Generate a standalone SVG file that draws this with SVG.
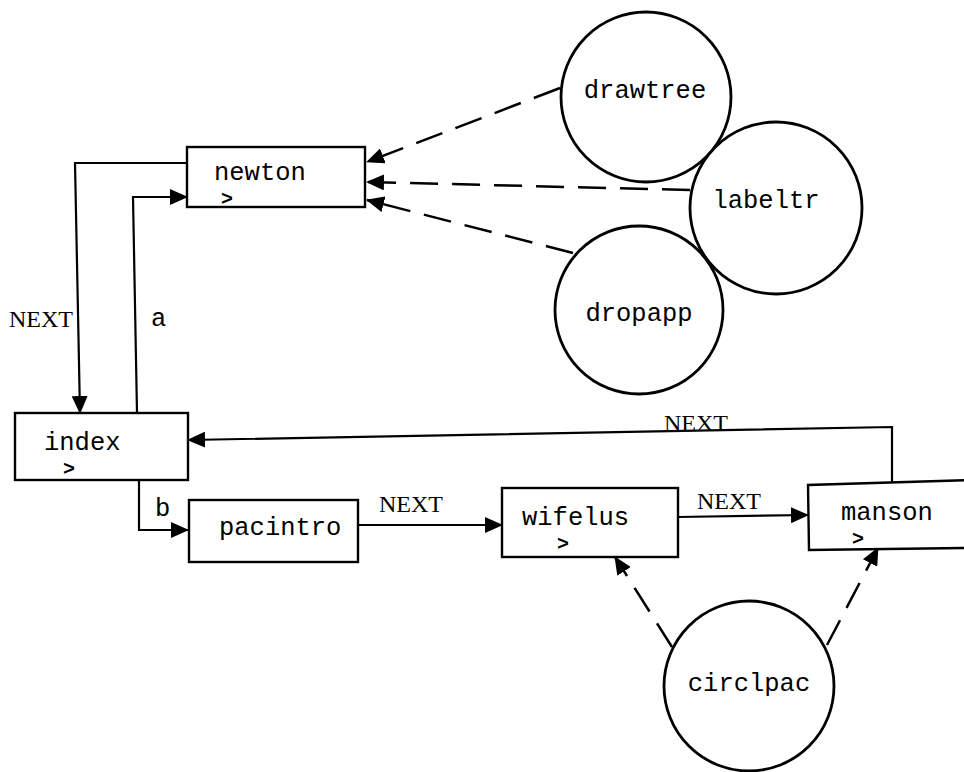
<svg xmlns="http://www.w3.org/2000/svg" width="964" height="772" viewBox="0 0 964 772">
<defs>
<marker id="ah" markerUnits="userSpaceOnUse" markerWidth="18" markerHeight="16" viewBox="0 0 18 16" refX="17" refY="8" orient="auto">
<path d="M0,0 L18,8 L0,16 Z" fill="#000" stroke="none"/>
</marker>
</defs>
<style>
.box{fill:#fff;stroke:#000;stroke-width:2.4}
.circ{fill:#fff;stroke:#000;stroke-width:2.8}
.lbl{font-family:"Liberation Mono","DejaVu Sans Mono",monospace;font-size:25.5px;fill:#000}
.chev{font-family:"Liberation Mono","DejaVu Sans Mono",monospace;font-size:20px;font-weight:bold;fill:#000}
.next{font-family:"Liberation Serif","Times New Roman",serif;font-size:24px;fill:#000}
.ln{fill:none;stroke:#000;stroke-width:2.2}
.dash{fill:none;stroke:#000;stroke-width:2.5;stroke-dasharray:28 14}
</style>
<rect width="964" height="772" fill="#fff"/>
<g id="connectors">
<path class="ln" d="M187,163 H75 L80,413" marker-end="url(#ah)"/>
<path class="ln" d="M137,413 L133,197 H187" marker-end="url(#ah)"/>
<path class="ln" d="M139,480 V530 H188" marker-end="url(#ah)"/>
<path class="ln" d="M358,525 H502" marker-end="url(#ah)"/>
<path class="ln" d="M678,517 L808,515" marker-end="url(#ah)"/>
<path class="ln" d="M892,482 V427 L188,440" marker-end="url(#ah)"/>
<path class="dash" d="M560,88 L367,162" marker-end="url(#ah)"/>
<path class="dash" d="M690,190 L367,182" marker-end="url(#ah)"/>
<path class="dash" d="M573,253 L367,200" marker-end="url(#ah)"/>
<path class="dash" d="M672,647 L615,557" marker-end="url(#ah)"/>
<path class="dash" d="M827,645 L878,548" marker-end="url(#ah)"/>
<text class="next" x="9" y="327">NEXT</text>
<text class="lbl" x="151" y="326">a</text>
<text class="lbl" x="155" y="516">b</text>
<text class="next" x="379" y="512">NEXT</text>
<text class="next" x="697" y="509">NEXT</text>
<text class="next" x="664" y="431">NEXT</text>
</g>
<g id="newton">
<rect class="box" x="187" y="147" width="178" height="60"/>
<text class="lbl" x="214" y="180">newton</text>
<text class="chev" x="221" y="205">&gt;</text>
</g>
<g id="index">
<rect class="box" x="15" y="413" width="173" height="67"/>
<text class="lbl" x="44" y="450">index</text>
<text class="chev" x="63" y="475">&gt;</text>
</g>
<g id="pacintro">
<rect class="box" x="189" y="500" width="169" height="62"/>
<text class="lbl" x="219" y="535">pacintro</text>
</g>
<g id="wifelus">
<rect class="box" x="502" y="488" width="176" height="69"/>
<text class="lbl" x="522" y="525">wifelus</text>
<text class="chev" x="557" y="550">&gt;</text>
</g>
<g id="manson">
<path class="box" d="M970,480 L808,485 L809,550 L970,548"/>
<text class="lbl" x="841" y="520">manson</text>
<text class="chev" x="852" y="545">&gt;</text>
</g>
<g id="drawtree">
<circle class="circ" cx="646" cy="97" r="85"/>
<text class="lbl" x="645" y="98" text-anchor="middle">drawtree</text>
</g>
<g id="labeltr">
<circle class="circ" cx="776" cy="208" r="86"/>
<text class="lbl" x="766" y="208" text-anchor="middle">labeltr</text>
</g>
<g id="dropapp">
<circle class="circ" cx="639" cy="310" r="84"/>
<text class="lbl" x="639" y="321" text-anchor="middle">dropapp</text>
</g>
<g id="circlpac">
<circle class="circ" cx="749" cy="686" r="85"/>
<text class="lbl" x="749" y="691" text-anchor="middle">circlpac</text>
</g>
</svg>
